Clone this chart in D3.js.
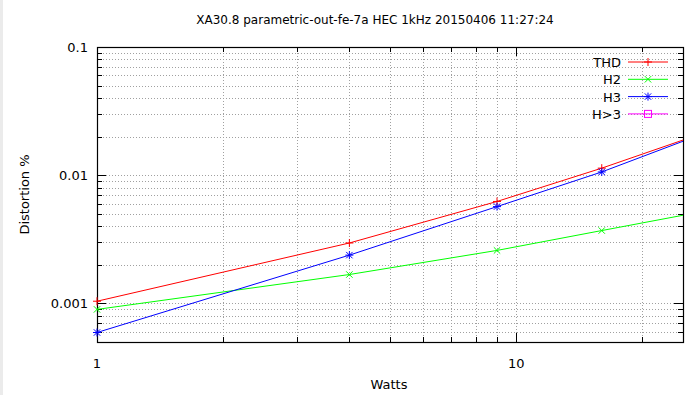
<!DOCTYPE html>
<html>
<head>
<meta charset="utf-8">
<script src="https://cdn.jsdelivr.net/npm/d3@7"></script>
<style>
    body { margin: 0; background: #fff; }
    text { font-family: "DejaVu Sans", sans-serif; font-size: 13px; fill: #000; }
    text.title { font-size: 12px; }
</style>
</head>
<body>
<svg id="chart" width="695" height="395"></svg>
<script>

// Data
const watts = [1, 4, 9, 16, 25];
const thd = [0.00104, 0.00296, 0.00624, 0.01135, 0.0188];
const h2 = [0.000898, 0.00168, 0.00259, 0.0037, 0.00487];
const h3 = [0.000593, 0.00238, 0.00569, 0.0106, 0.0184];
const hGt3 = [];
const xTickLabels = [1, 10];
const yTickLabels = [0.001, 0.01, 0.1];
const title = 'XA30.8 parametric-out-fe-7a HEC 1kHz 20150406 11:27:24';

const series = [
    { name: 'THD', values: thd, color: '#ff0000', marker: 'plus' },
    { name: 'H2', values: h2, color: '#00ff00', marker: 'cross' },
    { name: 'H3', values: h3, color: '#0000ff', marker: 'star' },
    { name: 'H>3', values: hGt3, color: '#ff00ff', marker: 'square' }
];

// Layout
const W = 695, H = 395;
const plot = { left: 97, right: 683, top: 47, bottom: 342 };

const svg = d3.select('#chart');

// Light gray strip at the left edge
svg.append('rect').attr('x', 0).attr('y', 0).attr('width', 3).attr('height', H).attr('fill', '#ebebeb');

// Scales
const x = d3.scaleLog().domain([1, 25]).range([plot.left, plot.right]);
const y = d3.scaleLog().domain([0.0005, 0.1]).range([plot.bottom, plot.top]);

// Tick values (majors + minors)
const xTicks = [];
for (let d = 1; d <= 10; d *= 10) {
    for (let m = 1; m <= 9; m++) {
        const v = d * m;
        if (v <= 25) xTicks.push(v);
    }
}
const yTicks = [];
for (let d = 0.0001; d <= 0.1 + 1e-12; d *= 10) {
    for (let m = 1; m <= 9; m++) {
        const v = +(d * m).toPrecision(3);
        if (v >= 0.0005 && v <= 0.1 + 1e-12) yTicks.push(v);
    }
}
const isMajor = v => Math.abs(Math.log10(v) - Math.round(Math.log10(v))) < 1e-9;

// Grid
const grid = svg.append('g').attr('stroke', '#a0a0a0').attr('stroke-width', 1)
    .attr('stroke-dasharray', '1,2').attr('shape-rendering', 'crispEdges');
xTicks.filter(v => v > 1).forEach(v => {
    const px = Math.round(x(v)) + 0.5;
    grid.append('line').attr('x1', px).attr('x2', px).attr('y1', plot.top).attr('y2', plot.bottom);
});
yTicks.filter(v => v < 0.1 && v > 0.0005).forEach(v => {
    const py = Math.round(y(v)) + 0.5;
    grid.append('line').attr('x1', plot.left).attr('x2', plot.right).attr('y1', py).attr('y2', py);
});

// Tick marks on all four sides
const ticks = svg.append('g').attr('stroke', '#000').attr('stroke-width', 1).attr('shape-rendering', 'crispEdges');
xTicks.forEach(v => {
    const px = Math.round(x(v)) + 0.5;
    const len = isMajor(v) ? 9 : 5;
    ticks.append('line').attr('x1', px).attr('x2', px).attr('y1', plot.bottom).attr('y2', plot.bottom - len);
    ticks.append('line').attr('x1', px).attr('x2', px).attr('y1', plot.top).attr('y2', plot.top + len);
});
yTicks.forEach(v => {
    const py = Math.round(y(v)) + 0.5;
    const len = isMajor(v) ? 9 : 5;
    ticks.append('line').attr('x1', plot.left).attr('x2', plot.left + len).attr('y1', py).attr('y2', py);
    ticks.append('line').attr('x1', plot.right).attr('x2', plot.right - len).attr('y1', py).attr('y2', py);
});

// Border
svg.append('rect')
    .attr('x', plot.left + 0.5).attr('y', plot.top + 0.5)
    .attr('width', plot.right - plot.left).attr('height', plot.bottom - plot.top)
    .attr('fill', 'none').attr('stroke', '#000').attr('stroke-width', 1.2);

// Tick labels
xTickLabels.forEach(v => {
    svg.append('text').attr('x', x(v)).attr('y', plot.bottom + 26)
        .attr('text-anchor', 'middle').text(v);
});
yTickLabels.forEach(v => {
    svg.append('text').attr('x', plot.left - 9).attr('y', y(v) + 5)
        .attr('text-anchor', 'end').text(v);
});

// Titles
svg.append('text').attr('class', 'title').attr('x', 375).attr('y', 24).attr('text-anchor', 'middle').text(title);
svg.append('text').attr('x', 389).attr('y', 389).attr('text-anchor', 'middle').text('Watts');
svg.append('text')
    .attr('transform', `translate(29, ${(plot.top + plot.bottom) / 2}) rotate(-90)`)
    .attr('text-anchor', 'middle').text('Distortion %');

// Marker drawer
function drawMarker(g, type, cx, cy, color) {
    const r = 4;
    const m = g.append('g').attr('stroke', color).attr('stroke-width', 1).attr('fill', 'none');
    if (type === 'plus' || type === 'star') {
        m.append('line').attr('x1', cx - r).attr('x2', cx + r).attr('y1', cy).attr('y2', cy);
        m.append('line').attr('x1', cx).attr('x2', cx).attr('y1', cy - r).attr('y2', cy + r);
    }
    if (type === 'cross' || type === 'star') {
        const q = r * 0.8;
        m.append('line').attr('x1', cx - q).attr('x2', cx + q).attr('y1', cy - q).attr('y2', cy + q);
        m.append('line').attr('x1', cx - q).attr('x2', cx + q).attr('y1', cy + q).attr('y2', cy - q);
    }
    if (type === 'square') {
        m.append('rect').attr('x', cx - 3.5).attr('y', cy - 3.5).attr('width', 7).attr('height', 7);
    }
}

// Clip for lines
svg.append('clipPath').attr('id', 'plot-clip').append('rect')
    .attr('x', plot.left).attr('y', plot.top)
    .attr('width', plot.right - plot.left).attr('height', plot.bottom - plot.top);

const line = d3.line().x(d => x(d[0])).y(d => y(d[1]));

// Series
series.forEach(s => {
    if (!s.values.length) return;
    const pts = s.values.map((v, i) => [watts[i], v]);
    svg.append('path').datum(pts)
        .attr('d', line)
        .attr('fill', 'none').attr('stroke', s.color).attr('stroke-width', 1)
        .attr('clip-path', 'url(#plot-clip)');
    // the last sample sits on the right border: line only, no marker
    const mg = svg.append('g');
    pts.filter(p => x(p[0]) < plot.right - 1)
        .forEach(p => drawMarker(mg, s.marker, x(p[0]), y(p[1]), s.color));
});

// Legend
const legend = svg.append('g');
series.forEach((s, i) => {
    const ly = 62 + i * 17.3;
    legend.append('text').attr('x', 621).attr('y', ly + 5).attr('text-anchor', 'end').text(s.name);
    legend.append('line').attr('x1', 628).attr('x2', 668).attr('y1', ly).attr('y2', ly)
        .attr('stroke', s.color).attr('stroke-width', 1);
    drawMarker(legend, s.marker, 648, ly, s.color);
});

</script>
</body>
</html>
